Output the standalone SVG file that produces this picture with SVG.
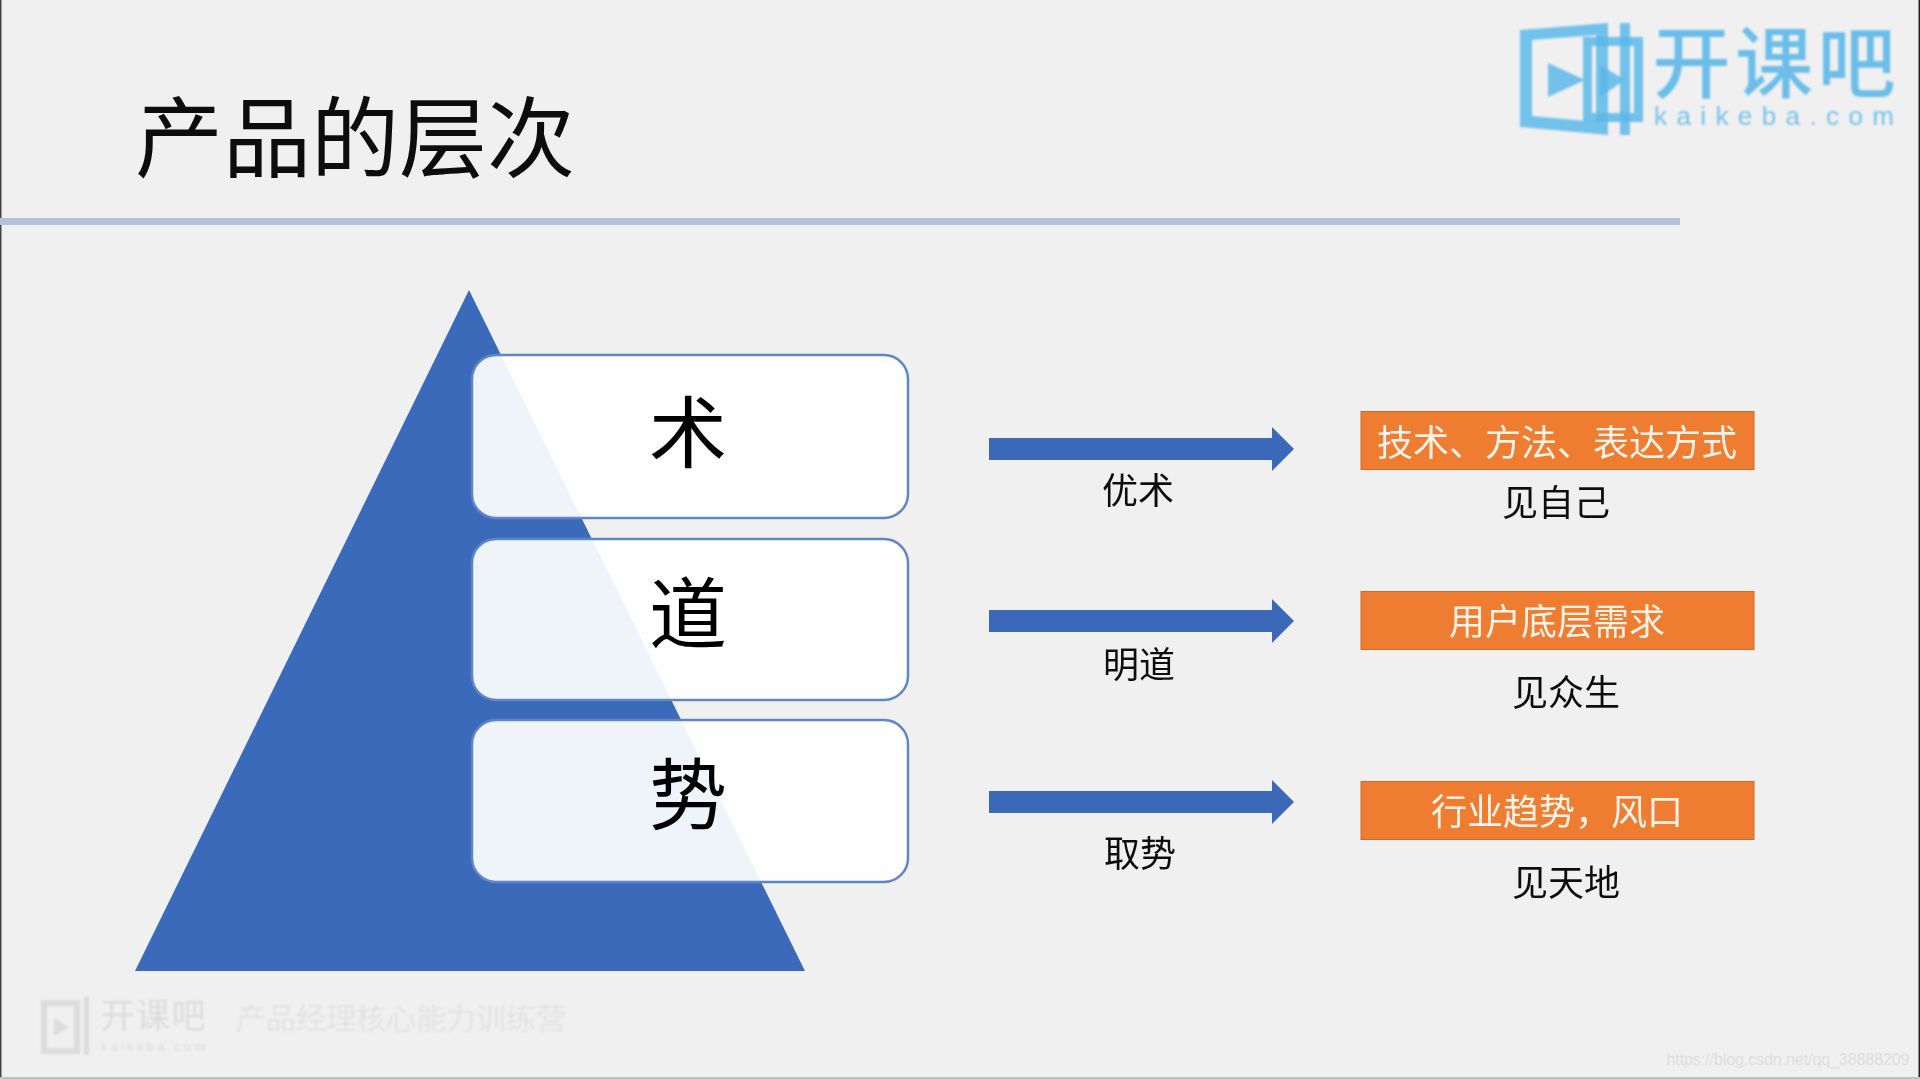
<svg xmlns="http://www.w3.org/2000/svg" width="1920" height="1079" viewBox="0 0 1920 1079">
<defs>
<style>
text{font-family:"Noto Sans CJK SC","Liberation Sans",sans-serif;text-anchor:middle;dominant-baseline:central}
.box{fill:#fff;fill-opacity:.92;stroke:#5f86c6;stroke-width:2.5}
.big{font-size:78px;fill:#000}
.tag{fill:#ee7d31;stroke:#d0692a;stroke-width:1}
.tagt{font-size:36px;fill:#fdf3e8}
.lab{font-size:36px;fill:#111}
.arrow{fill:#3a68b8}
.lg{fill:#5cb8ea;fill-opacity:.85}
.wm{fill:#dcdcdc}
</style>
<filter id="soft" x="-5%" y="-5%" width="110%" height="110%"><feGaussianBlur stdDeviation="0.5"/></filter>
<filter id="softer" x="-5%" y="-10%" width="110%" height="120%"><feGaussianBlur stdDeviation="1"/></filter>
<path id="arr" d="M989 -11H1272V-22L1294 0L1272 22V11H989Z"/>
</defs>
<rect width="1920" height="1079" fill="#f0f0f0"/>
<rect x="0" y="0" width="1.5" height="1079" fill="#444"/>
<rect x="1918.5" y="0" width="1.5" height="1079" fill="#222"/>
<rect x="0" y="1077" width="1920" height="2" fill="#bfc1c1"/>
<g filter="url(#soft)">
<text id="title" x="355" y="131" style="font-size:88px" fill="#0c0c0c">产品的层次</text>
<rect id="rule" x="0" y="218" width="1680" height="7" fill="#b5c1de"/>
<g id="pyramid"><path d="M469 290L805 971H135Z" fill="#3a6abb"/></g>
<g id="node-shu"><rect class="box" x="472" y="355" width="436" height="163" rx="24"/><text class="big" x="688" y="428">术</text></g>
<g id="node-dao"><rect class="box" x="472" y="539" width="436" height="161" rx="24"/><text class="big" x="688" y="609">道</text></g>
<g id="node-shi"><rect class="box" x="472" y="720" width="436" height="162" rx="24"/><text class="big" x="688" y="790">势</text></g>
<g id="connectors" class="arrow">
<use href="#arr" y="449"/>
<use href="#arr" y="621"/>
<use href="#arr" y="802"/>
</g>
<g id="label-1"><text class="lab" x="1138" y="488">优术</text></g>
<g id="label-2"><text class="lab" x="1139" y="662">明道</text></g>
<g id="label-3"><text class="lab" x="1140" y="851">取势</text></g>
<g id="tag-1"><rect class="tag" x="1361" y="411.500" width="393" height="58"/><text class="tagt" x="1557" y="440">技术、方法、表达方式</text></g>
<g id="tag-2"><rect class="tag" x="1361" y="591.500" width="393" height="58"/><text class="tagt" x="1557" y="619">用户底层需求</text></g>
<g id="tag-3"><rect class="tag" x="1361" y="781.500" width="393" height="58"/><text class="tagt" x="1557" y="809">行业趋势，风口</text></g>
<g id="note-1"><text class="lab" x="1556" y="500">见自己</text></g>
<g id="note-2"><text class="lab" x="1566" y="690">见众生</text></g>
<g id="note-3"><text class="lab" x="1566" y="880">见天地</text></g>
</g>
<g id="logo" filter="url(#softer)">
<path class="lg" fill-rule="evenodd" d="M1520 30L1608 23V135L1520 127ZM1532 40V116L1596 122V35Z"/>
<path class="lg" fill-rule="evenodd" d="M1583 37H1643V122H1583ZM1592 46V113H1634V46Z"/>
<rect class="lg" x="1620" y="23" width="10" height="112"/>
<path class="lg" d="M1548 63V97L1585 80Z"/>
<path class="lg" d="M1600 65V97L1625 80Z"/>
<text x="1774" y="58" style="font-size:78px;font-weight:500" fill="#5cb8ea" fill-opacity=".9" textLength="243">开课吧</text>
<text x="1774" y="116" style="font-size:26px;font-family:'Liberation Sans',sans-serif" fill="#5cb8ea" fill-opacity=".85" textLength="240">kaikeba.com</text>
</g>
<g id="watermark" filter="url(#softer)">
<path class="wm" fill-rule="evenodd" d="M41 1000H80V1054H41ZM47 1006V1048H74V1006Z"/>
<rect class="wm" x="84" y="997" width="5" height="58"/>
<path class="wm" d="M54 1018V1036L69 1027Z"/>
<text class="wm" x="153" y="1013" style="font-size:34px" textLength="105">开课吧</text>
<text class="wm" x="153" y="1046" style="font-size:13px;font-family:'Liberation Sans',sans-serif" textLength="104">kaikeba.com</text>
<text x="401" y="1016" style="font-size:30px" fill="#e2e2e2">产品经理核心能力训练营</text>
</g>
<text id="url" x="1788" y="1059" style="font-size:16px;font-family:'Liberation Sans',sans-serif" fill="#dedede" textLength="243">https://blog.csdn.net/qq_38888209</text>
</svg>
